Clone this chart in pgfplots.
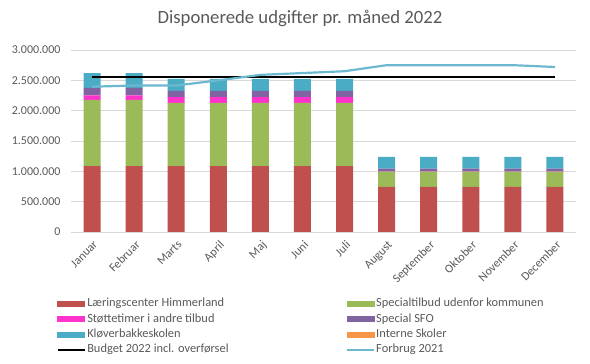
\documentclass[border=0pt]{standalone}
\usepackage{fontspec}
\setmainfont{Carlito}
\usepackage{pgfplots}
\pgfplotsset{compat=1.18}
\definecolor{cRed}{HTML}{C0504D}
\definecolor{cGreen}{HTML}{9BBB59}
\definecolor{cPink}{HTML}{FF33CC}
\definecolor{cPurple}{HTML}{8064A2}
\definecolor{cBlue}{HTML}{4BACC6}
\definecolor{cOrange}{HTML}{F79646}
\definecolor{cLine}{HTML}{6CB8CF}
\definecolor{cGrid}{HTML}{D9D9D9}
\definecolor{cText}{HTML}{595959}
\pgfplotstableread{
x red green pink purple blue orange
0 1085000 1093000 72000 126000 242000 0
1 1085000 1093000 72000 126000 242000 0
2 1085000 1044000 93000 105000 195000 0
3 1085000 1044000 93000 105000 195000 0
4 1085000 1044000 93000 105000 195000 0
5 1085000 1044000 93000 105000 195000 0
6 1085000 1044000 93000 105000 195000 0
7 745000 250000 5000 45000 193000 0
8 745000 250000 5000 45000 193000 0
9 745000 250000 5000 45000 193000 0
10 745000 250000 5000 45000 193000 0
11 745000 250000 5000 45000 193000 0
}\bars
\pgfplotstableread{
x budget forbrug
0 2555000 2395000
1 2555000 2415000
2 2555000 2415000
3 2555000 2500000
4 2555000 2590000
5 2555000 2620000
6 2555000 2650000
7 2555000 2750000
8 2555000 2750000
9 2555000 2750000
10 2555000 2750000
11 2555000 2720000
}\lines
\begin{document}
\begin{tikzpicture}[x=1pt,y=1pt]
\useasboundingbox (0,0) rectangle (590,364);
\node[font=\fontsize{18.7}{22}\selectfont, text=cText] at (300,346) {Disponerede udgifter pr. måned 2022};
\begin{axis}[
  at={(71pt,132pt)}, anchor=south west,
  width=505pt, height=182pt, scale only axis,
  xmin=-0.5, xmax=11.5, ymin=0, ymax=3000000,
  ybar stacked, bar width=17pt,
  xtick={0,...,11},
  xticklabels={Januar,Februar,Marts,April,Maj,Juni,Juli,August,September,Oktober,November,December},
  ytick={0,500000,...,3000000},
  scaled y ticks=false,
  /pgf/number format/1000 sep={.},
  /pgf/number format/fixed,
  /pgf/number format/assume math mode=true,
  xticklabel style={rotate=45, anchor=north east, inner sep=1pt, yshift=-5pt, xshift=-4pt, font=\fontsize{12}{14}\selectfont, text=cText},
  yticklabel style={font=\fontsize{12}{14}\selectfont, text=cText, xshift=-7pt},
  major tick length=0pt,
  ymajorgrids, grid style={cGrid, line width=0.8pt},
  axis x line*=bottom, axis y line*=left,
  x axis line style={cGrid, line width=0.8pt, -},
  y axis line style={draw=none},
]
\addplot[fill=cRed, draw=none] table[x=x,y=red]{\bars};
\addplot[fill=cGreen, draw=none] table[x=x,y=green]{\bars};
\addplot[fill=cPink, draw=none] table[x=x,y=pink]{\bars};
\addplot[fill=cPurple, draw=none] table[x=x,y=purple]{\bars};
\addplot[fill=cBlue, draw=none] table[x=x,y=blue]{\bars};
\addplot[fill=cOrange, draw=none] table[x=x,y=orange]{\bars};
\end{axis}
\begin{axis}[
  at={(71pt,132pt)}, anchor=south west,
  width=505pt, height=182pt, scale only axis,
  xmin=-0.5, xmax=11.5, ymin=0, ymax=3000000,
  hide axis,
  legend columns=2,
  legend cell align=left,
  legend style={at={(-0.029,-0.352)}, anchor=north west, draw=none, fill=none,
    font=\fontsize{12.4}{14}\selectfont, text=cText,
    row sep=0.3pt, inner sep=0pt,
    nodes={inner sep=1.5pt, text height=9pt, text depth=3pt}},
]
\addlegendimage{legend image code/.code={\fill[cRed] (0pt,-2.5pt) rectangle (27pt,2.5pt);}}
\addlegendentry{\makebox[257pt][l]{Læringscenter Himmerland}}
\addlegendimage{legend image code/.code={\fill[cGreen] (0pt,-2.5pt) rectangle (27pt,2.5pt);}}
\addlegendentry{Specialtilbud udenfor kommunen}
\addlegendimage{legend image code/.code={\fill[cPink] (0pt,-2.5pt) rectangle (27pt,2.5pt);}}
\addlegendentry{\makebox[257pt][l]{Støttetimer i andre tilbud}}
\addlegendimage{legend image code/.code={\fill[cPurple] (0pt,-2.5pt) rectangle (27pt,2.5pt);}}
\addlegendentry{Special SFO}
\addlegendimage{legend image code/.code={\fill[cBlue] (0pt,-2.5pt) rectangle (27pt,2.5pt);}}
\addlegendentry{\makebox[257pt][l]{Kløverbakkeskolen}}
\addlegendimage{legend image code/.code={\fill[cOrange] (0pt,-2.5pt) rectangle (27pt,2.5pt);}}
\addlegendentry{Interne Skoler}
\addplot[black, line width=2.6pt, legend image code/.code={\draw[black, line width=2.2pt] (0pt,0pt) -- (27pt,0pt);}] table[x=x,y=budget]{\lines};
\addlegendentry{\makebox[257pt][l]{Budget 2022 incl. overførsel}}
\addplot[cLine, line width=2.2pt, legend image code/.code={\draw[cLine, line width=2pt] (0pt,0pt) -- (27pt,0pt);}] table[x=x,y=forbrug]{\lines};
\addlegendentry{Forbrug 2021}
\end{axis}
\end{tikzpicture}
\end{document}
